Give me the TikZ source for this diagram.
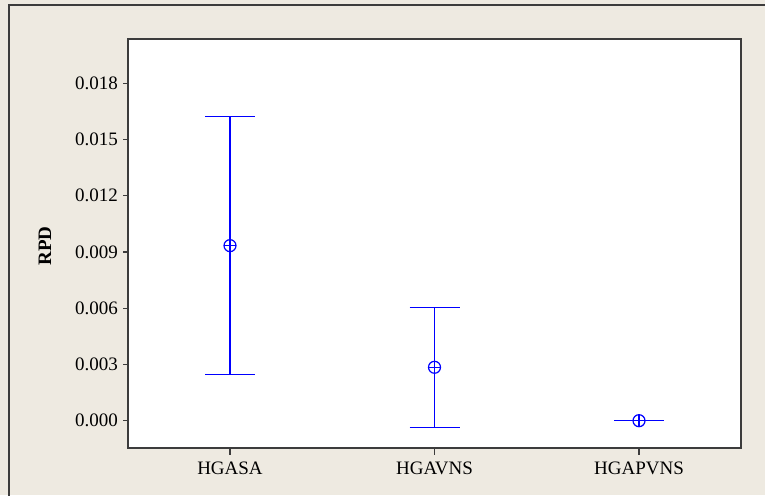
\documentclass[tikz,border=0pt]{standalone}
\usepackage{fontspec}
\setmainfont{Liberation Serif}
\definecolor{panelbg}{RGB}{238,234,225}
\definecolor{framegray}{RGB}{60,60,60}

\begin{document}
\begin{tikzpicture}[x=1pt,y=-1pt,font=\fontsize{19}{23}\selectfont,
    errbar/.style={blue,line width=1.4pt},
    axtick/.style={framegray,line width=1.2pt},
    ticklab/.style={inner sep=0}]
\useasboundingbox (0,0) rectangle (765,495);
\fill[panelbg] (0,0) rectangle (765,495);
\begin{scope}
\clip (0,0) rectangle (765,495);
\draw[draw=framegray,line width=1.5pt] (9,5) rectangle (800,540);
\end{scope}
\draw[fill=white,draw=framegray,line width=2pt] (128,39) rectangle (741,448);
\node[rotate=90,font=\fontsize{19}{23}\selectfont\bfseries] (rpd) at (45,246) {RPD};
% data part: 0.001 RPD = 18.743pt
\begin{scope}[shift={(0,420.7)},y=18.743pt]
\foreach \v/\lab in {0/0.000,3/0.003,6/0.006,9/0.009,12/0.012,15/0.015,18/0.018} {
  \draw[axtick] (128,\v) -- ++(-5pt,0);
  \node[ticklab,anchor=east] (y\v) at (118,\v) {\lab};
}
\foreach \x/\lo/\mid/\hi/\name in {230/2.45/9.34/16.22/HGASA,434.5/-0.35/2.85/6.05/HGAVNS,639/0/0/0/HGAPVNS} {
  \draw[axtick] (\x,-1.45) -- ++(0,-7pt);
  \node[ticklab,anchor=north] (\name) at (\x,-2.2) {\name};
  \draw[errbar] (\x,\lo) -- (\x,\hi);
  \draw[errbar] (\x-25,\lo) -- (\x+25,\lo);
  \draw[errbar] (\x-25,\hi) -- (\x+25,\hi);
  \draw[errbar,line width=1.2pt] (\x,\mid) circle (6pt);
  \draw[errbar,line width=1.2pt] (\x-6,\mid) -- (\x+6,\mid);
  \draw[errbar,line width=1.2pt] (\x,\mid) ++(0,-6pt) -- ++(0,12pt);
}
\end{scope}
\end{tikzpicture}
\end{document}
